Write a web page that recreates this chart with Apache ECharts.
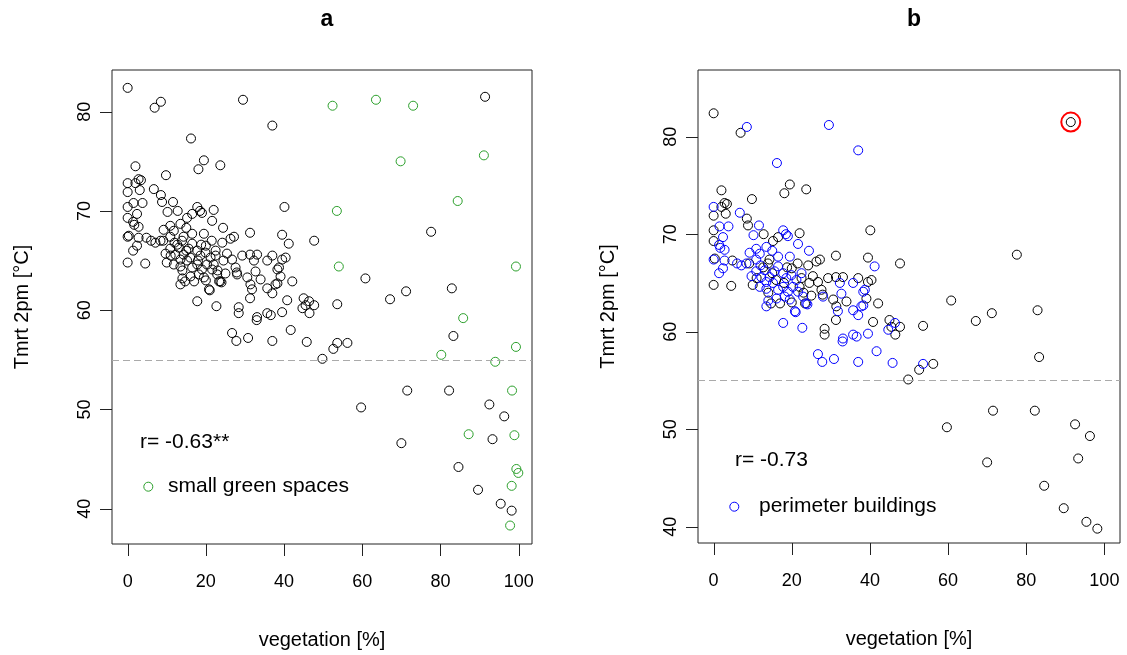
<!DOCTYPE html>
<html>
<head>
<meta charset="utf-8">
<script src="https://cdn.jsdelivr.net/npm/echarts@6/dist/echarts.min.js"></script>
<style>
html,body{margin:0;padding:0;background:#fff;}
#chart{width:1127px;height:655px;}
</style>
</head>
<body>
<div id="chart"></div>
<script>
// ---- tick labels ----
const xTicks = [0, 20, 40, 60, 80, 100];
const yTicks = [40, 50, 60, 70, 80];
const refLine = 55;

// ---- perimeter buildings (black in a, blue in b) ----
const perimVeg = [8.5,29.5,37.0,16.2,0,6.7,1.5,3.8,2.4,11.6,10.2,17.8,19.0,21.6,24.4,1.4,1.7,2.8,0,2.8,2.4,1.4,7.1,8.4,9.2,10.9,10.9,11.8,13.5,16.5,19.5,41.2,32.3,35.7,38.7,38.3,32.7,28.0,35.7,37.0,37.8,38.3,31.8,39.5,44.7,46.4,33.1,35.7,36.6,13.5,17.8,22.7,20.8,23.7,26.7,27.8,30.8,33.0,37.0,41.7,45.8,53.6,
  9.7,10.9,12.2,13.1,14.3,15.6,16.5,17.8,18.6,19.9,21.2,11.8,13.5,15.2,16.5,17.8,19.0,20.3,21.6,16.1,18.2,19.5,22.9,13.5,21.0,24.0,12.0,15.0,6.0,22.5,18.5,14.0];
const perimTmrt = [81.0,81.2,78.6,77.3,72.8,72.2,70.8,70.8,69.7,70.9,69.9,70.4,69.8,69.0,68.3,68.9,68.6,68.4,67.4,67.3,66.5,66.0,66.8,67.0,68.1,68.5,67.4,68.0,68.7,67.7,67.7,66.7,65.0,65.0,64.3,64.1,63.9,63.6,62.2,61.7,62.6,62.7,62.1,59.8,60.2,60.9,59.3,59.7,59.5,62.6,60.9,60.4,62.1,62.9,57.7,56.9,57.2,59.0,56.9,58.0,56.8,56.7,
  65.7,66.2,65.6,66.3,65.6,66.2,66.7,66.0,65.5,65.8,65.3,64.6,64.4,65.0,64.3,64.6,64.1,64.6,64.1,63.4,63.6,63.3,63.6,65.1,62.0,62.8,66.8,68.3,67.0,66.0,70.0,63.2];

// ---- other sites (black in both panels) ----
const otherVeg = [0,6.9,91.4,19.5,18.1,23.7,2.0,9.8,2.8,3.4,2.0,0,3.1,8.5,8.8,0,0,12.8,16.5,15.2,22.0,40.1,0.3,4.8,0,4.5,14.3,13.9,24.2,26.3,27.2,31.3,39.5,47.7,29.3,31.3,33.1,37.0,40.4,39.5,27.6,27.9,30.6,31.4,34.0,39.1,42.1,40.8,31.3,28.4,28.4,45.5,47.7,45.0,46.5,49.8,53.6,52.6,56.2,67.1,71.2,82.9,83.3,71.5,82.2,59.7,92.5,96.3,93.3,70.0,84.6,89.6,95.4,98.2,77.6,60.8,
  9.1,12.7,15.0,18.0,20.0,21.5,22.5,24.5,25.4,23.0,14.0,11.0,17.0,20.0,26.7,16.0,18.8,22.0,25.0,10.0,14.7,23.4];
const otherTmrt = [82.4,80.4,81.5,75.1,74.2,74.6,74.5,73.6,73.2,73.1,72.8,71.9,72.1,71.6,70.9,70.4,69.3,70.0,69.7,69.3,70.1,70.4,67.5,67.3,64.8,64.7,67.4,67.0,66.8,67.2,67.4,67.8,67.6,67.0,65.5,65.6,65.6,65.5,65.3,65.1,64.3,63.8,63.3,62.6,63.1,63.4,62.9,61.0,61.2,60.3,59.7,60.5,60.5,61.2,59.7,55.1,60.6,56.1,56.7,61.1,61.9,62.2,57.4,51.9,51.9,50.2,50.5,49.3,47.0,46.6,44.2,41.9,40.5,39.8,67.9,63.2,
  67.0,66.6,66.0,65.0,66.5,67.0,65.5,65.0,65.7,64.0,64.0,65.5,62.9,63.0,65.1,65.3,66.6,64.6,63.7,64.8,62.9,62.9];

// ---- small green spaces (green in panel a only) ----
const greenVeg = [52.4,63.5,73.0,69.8,91.1,84.4,53.5,54.0,99.3,85.8,99.3,80.2,94.0,98.3,87.2,98.9,99.4,99.9,98.2,97.8];
const greenTmrt = [80.6,81.2,80.6,75.0,75.6,71.0,70.0,64.4,64.4,59.2,56.3,55.5,54.8,51.9,47.5,47.4,44.0,43.6,42.3,38.3];

// ---- highlighted site in panel b ----
const highlightVeg = [91.4];
const highlightTmrt = [81.5];

const zip = (xs, ys) => xs.map((x, i) => [x, ys[i]]);

const FONT = 'Liberation Sans, Arial, sans-serif';
const BLACK = '#000000';
const GREEN = '#2ca02c';
const BLUE = '#0000ff';
const AXC = '#222222';
const TICK = 12;

// plot boxes (pixel layout) and their data ranges
const panels = [
  { left: 112, top: 70, width: 420, height: 474, xMin: -4, xMax: 103.4, yMin: 36.44, yMax: 84.2 },
  { left: 698, top: 70, width: 422, height: 473, xMin: -4, xMax: 104, yMin: 38.33, yMax: 86.84 }
];

function ring(color, size, width) {
  return {
    type: 'scatter', symbol: 'circle', symbolSize: size || 9,
    itemStyle: { color: 'rgba(0,0,0,0)', borderColor: color, borderWidth: width || 1, opacity: 1 },
    emphasis: { disabled: true }, silent: true, z: 3
  };
}

const grids = panels.map(p => ({ left: p.left, top: p.top, width: p.width, height: p.height, show: true, borderColor: AXC, borderWidth: 1, backgroundColor: 'transparent' }));
const xAxes = panels.map((p, i) => ({
  type: 'value', gridIndex: i, min: p.xMin, max: p.xMax,
  name: 'vegetation [%]', nameLocation: 'middle', nameGap: 86,
  nameTextStyle: { fontFamily: FONT, fontSize: 20, color: '#000' },
  axisLine: { show: false, onZero: false },
  axisTick: { show: false },
  axisLabel: { customValues: xTicks, fontFamily: FONT, fontSize: 18, color: '#000', margin: 29 },
  splitLine: { show: false }
}));
const yAxes = panels.map((p, i) => ({
  type: 'value', gridIndex: i, min: p.yMin, max: p.yMax,
  name: 'Tmrt 2pm [°C]', nameLocation: 'middle', nameGap: 80, nameRotate: 90,
  nameTextStyle: { fontFamily: FONT, fontSize: 20, color: '#000' },
  axisLine: { show: false, onZero: false },
  axisTick: { show: false },
  axisLabel: { customValues: yTicks, rotate: 90, fontFamily: FONT, fontSize: 18, color: '#000', margin: 18 },
  splitLine: { show: false }
}));

const refMark = {
  silent: true, symbol: 'none', animation: false,
  label: { show: false },
  lineStyle: { color: '#aaaaaa', type: [7, 4], width: 1 },
  data: [{ yAxis: refLine }]
};

const chart = echarts.init(document.getElementById('chart'));
chart.setOption({
  animation: false,
  backgroundColor: '#ffffff',
  title: [
    { text: 'a', left: 322, top: 3, textAlign: 'center',
      textStyle: { fontFamily: FONT, fontSize: 23, fontWeight: 'bold', color: '#000' } },
    { text: 'b', left: 909, top: 3, textAlign: 'center',
      textStyle: { fontFamily: FONT, fontSize: 23, fontWeight: 'bold', color: '#000' } }
  ],
  grid: grids,
  xAxis: xAxes,
  yAxis: yAxes,
  series: [
    Object.assign(ring(BLACK), { name: 'a other', xAxisIndex: 0, yAxisIndex: 0, data: zip(otherVeg, otherTmrt), markLine: refMark }),
    Object.assign(ring(BLACK), { name: 'a perimeter', xAxisIndex: 0, yAxisIndex: 0, data: zip(perimVeg, perimTmrt) }),
    Object.assign(ring(GREEN), { name: 'small green spaces', xAxisIndex: 0, yAxisIndex: 0, data: zip(greenVeg, greenTmrt), z: 4 }),
    Object.assign(ring(BLACK), { name: 'b other', xAxisIndex: 1, yAxisIndex: 1, data: zip(otherVeg, otherTmrt), markLine: refMark }),
    Object.assign(ring(BLUE), { name: 'perimeter buildings', xAxisIndex: 1, yAxisIndex: 1, data: zip(perimVeg, perimTmrt), z: 4 }),
    Object.assign(ring('#ff0000', 19, 2), { name: 'highlight', xAxisIndex: 1, yAxisIndex: 1, data: zip(highlightVeg, highlightTmrt), z: 5 })
  ]
});

// tick marks (R style, pointing outward), placed through the axes' own scales
const graphics = [
  { type: 'text', left: 140, top: 432, style: { text: 'r= -0.63**', fontFamily: FONT, fontSize: 21, fill: '#000' } },
  { type: 'circle', shape: { cx: 148.3, cy: 486.7, r: 4.5 }, style: { fill: 'none', stroke: GREEN, lineWidth: 1 } },
  { type: 'text', left: 168, top: 476, style: { text: 'small green spaces', fontFamily: FONT, fontSize: 21, fill: '#000' } },
  { type: 'text', left: 735, top: 450, style: { text: 'r= -0.73', fontFamily: FONT, fontSize: 21, fill: '#000' } },
  { type: 'circle', shape: { cx: 734.3, cy: 506.7, r: 4.5 }, style: { fill: 'none', stroke: BLUE, lineWidth: 1 } },
  { type: 'text', left: 759, top: 496, style: { text: 'perimeter buildings', fontFamily: FONT, fontSize: 21, fill: '#000' } }
];
panels.forEach((p, i) => {
  const bottom = p.top + p.height;
  xTicks.forEach(v => {
    const x = Math.round(chart.convertToPixel({ xAxisIndex: i }, v)) + 0.5;
    graphics.push({ type: 'line', silent: true, shape: { x1: x, y1: bottom, x2: x, y2: bottom + TICK }, style: { stroke: AXC, lineWidth: 1 } });
  });
  yTicks.forEach(v => {
    const y = Math.round(chart.convertToPixel({ yAxisIndex: i }, v)) + 0.5;
    graphics.push({ type: 'line', silent: true, shape: { x1: p.left - TICK, y1: y, x2: p.left, y2: y }, style: { stroke: AXC, lineWidth: 1 } });
  });
});
chart.setOption({ graphic: graphics });
</script>
</body>
</html>
